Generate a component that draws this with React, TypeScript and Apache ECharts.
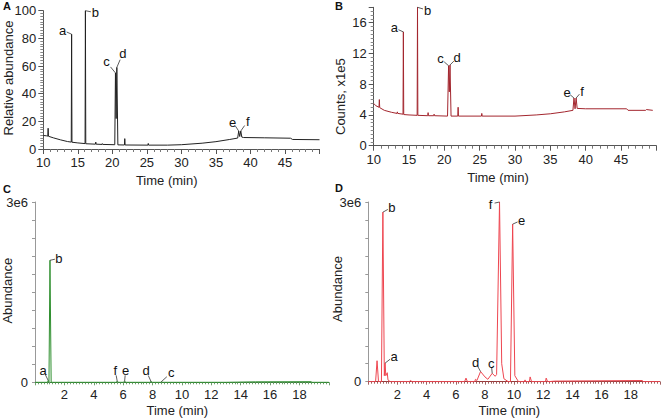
import React, { useEffect, useRef } from "react";
import * as echarts from "echarts";

// ---- Data ----
// Panel A: time (min), relative abundance
const traceA: [number, number][] = [
  [10, 9.8], [10.5, 9.5], [10.65, 9.3], [10.7, 15], [10.75, 9.2], [11.5, 8], [12.5, 6.6], [13.5, 5.4],
  [14.05, 5.0], [14.1, 83], [14.15, 4.9], [15, 4.4], [16.05, 3.9], [16.1, 100], [16.15, 3.8],
  [17.55, 3.5], [17.6, 5], [17.65, 3.5], [18.5, 3.3], [18.55, 3.9], [18.6, 3.3], [20.35, 3.1],
  [20.45, 55], [20.55, 22], [20.65, 59], [20.8, 3.0], [21.75, 2.9], [21.8, 7.5], [21.85, 2.9],
  [25.15, 2.8], [25.2, 4], [25.25, 2.8], [28, 2.8], [30, 3.1], [33, 4.2], [35, 5.3], [37, 6.9],
  [38.15, 7.9], [38.3, 13], [38.45, 9], [38.6, 13], [38.75, 8.6], [39, 8.3], [42, 8.1],
  [45.8, 7.8], [46.1, 6.9], [50, 6.7],
];
const peaksA: [number, number][] = [[14.1, 83], [16.1, 100], [20.45, 55], [20.65, 59], [38.3, 13], [38.6, 13]];
const lettersA = ["a", "b", "c", "d", "e", "f"];

// Panel B: time (min), counts x1e5
const traceB: [number, number][] = [
  [10, 5.5], [10.3, 5.2], [10.75, 5.0], [10.8, 6.0], [10.85, 4.95], [11.5, 4.6], [12.5, 4.35],
  [13.3, 4.2], [13.35, 4.4], [13.4, 4.2], [14.15, 4.1], [14.2, 14.8], [14.25, 4.05], [15, 4.0],
  [16.15, 3.95], [16.2, 18], [16.25, 3.95], [17.65, 3.9], [17.7, 4.3], [17.75, 3.9], [18.5, 3.9],
  [18.55, 4.1], [18.6, 3.9], [20.45, 3.85], [20.6, 10.4], [20.7, 7], [20.8, 10.5], [20.95, 3.85],
  [21.9, 3.85], [21.95, 5.0], [22.0, 3.85], [25.25, 3.85], [25.3, 4.2], [25.35, 3.85], [30, 3.85],
  [33, 4.0], [35, 4.15], [37, 4.4], [38.2, 4.6], [38.35, 6.2], [38.5, 4.8], [38.65, 6.2],
  [38.8, 4.85], [40, 4.8], [45.8, 4.8], [46.0, 4.6], [48.5, 4.6], [48.6, 4.7], [49.5, 4.6],
];
const peaksB: [number, number][] = [[14.2, 14.8], [16.2, 18], [20.6, 10.4], [20.8, 10.5], [38.35, 6.2], [38.65, 6.2]];
const lettersB = ["a", "b", "c", "d", "e", "f"];

// Panel C: time (min), abundance
const traceC: [number, number][] = [
  [0, 0], [0.85, 0], [0.9, 30000], [0.95, 5000], [1.02, 2030000], [1.1, 0], [5.5, 0], [5.6, 15000],
  [5.7, 0], [6.0, 0], [6.1, 15000], [6.2, 0], [7.8, 0], [7.9, 12000], [8.0, 0], [8.55, 0],
  [8.6, 10000], [8.7, 0], [13, 0], [15, 8000], [18.8, 10000], [18.85, 0], [20, 0],
];
const peaksC: [number, number][] = [[0.9, 30000], [1.02, 2030000], [5.6, 15000], [6.1, 15000], [7.9, 12000], [8.6, 10000]];
const lettersC = ["a", "b", "f", "e", "d", "c"];

// Panel D: time (min), abundance
const traceD: [number, number][] = [
  [0, 0], [0.5, 0], [0.6, 350000], [0.7, 0], [0.9, 0], [1.0, 2830000], [1.1, 100000], [1.15, 310000],
  [1.2, 100000], [1.3, 150000], [1.35, 30000], [1.5, 0], [2.8, 0], [2.9, 20000], [3.0, 0],
  [6.6, 0], [6.7, 60000], [6.8, 0], [7.3, 0], [7.35, 40000], [7.45, 20000], [7.7, 170000],
  [8.0, 80000], [8.2, 40000], [8.5, 140000], [8.7, 90000], [8.8, 120000], [9.0, 3000000],
  [9.15, 300000], [9.3, 50000], [9.6, 0], [9.75, 0], [9.9, 2630000], [10.05, 100000], [10.3, 0],
  [10.7, 0], [10.75, 30000], [10.8, 0], [11.05, 0], [11.1, 80000], [11.2, 0], [12.15, 0],
  [12.2, 60000], [12.3, 0], [12.8, 10000], [18.8, 20000], [18.85, 0], [20, 0],
];
const peaksD: [number, number][] = [[1.0, 2830000], [1.15, 310000], [7.7, 170000], [8.5, 140000], [9.0, 3000000], [9.9, 2630000]];
const lettersD = ["b", "a", "d", "c", "f", "e"];

// label offsets (px) – styling
const offA: [number, number][] = [[-9, -4], [10, 2], [-9, -11], [6, -14], [-6, -9], [7, -10]];
const offB: [number, number][] = [[-9, -4], [10, 3], [-8, -7], [7, -7], [-7, -6], [6, -7]];
const offC: [number, number][] = [[-5, -10], [9, -2], [-2, -11], [1, -11], [-5, -11], [10, -9]];
const offD: [number, number][] = [[9, -5], [9, -7], [-5, -9], [-1, -10], [-9, 2], [9, -4]];

const FONT = "'Liberation Sans', Arial, sans-serif";

export default function App() {
  const ref = useRef<HTMLDivElement>(null);
  useEffect(() => {
    document.body.style.margin = "0";
    const chart = echarts.init(ref.current!, undefined, { renderer: "svg" });

    const labelSeries = (
      peaks: [number, number][],
      letters: string[],
      offs: [number, number][],
      idx: number
    ) => ({
      type: "custom",
      xAxisIndex: idx,
      yAxisIndex: idx,
      clip: false,
      silent: true,
      z: 5,
      data: peaks,
      renderItem: (params: any, api: any) => {
        const p = api.coord([api.value(0), api.value(1)]);
        const [dx, dy] = offs[params.dataIndex];
        return {
          type: "group",
          children: [
            {
              type: "polyline",
              shape: { points: [[p[0], p[1]], [p[0] + dx * 0.55, p[1] + dy * 0.55]] },
              style: { stroke: "#333", lineWidth: 0.8, fill: null },
            },
            {
              type: "text",
              x: p[0] + dx,
              y: p[1] + dy,
              style: {
                text: letters[params.dataIndex],
                fontSize: 13,
                fontFamily: FONT,
                fill: "#111",
                align: "center",
                verticalAlign: "middle",
              },
            },
          ],
        };
      },
    });

    const lineSeries = (data: [number, number][], color: string, idx: number) => ({
      type: "line",
      xAxisIndex: idx,
      yAxisIndex: idx,
      data,
      showSymbol: false,
      symbol: "none",
      lineStyle: { color, width: 1 },
      z: 3,
    });

    const axisText = { color: "#222", fontSize: 13, fontFamily: FONT };

    const xTop = (min: number, max: number, idx: number) => ({
      type: "value",
      gridIndex: idx,
      min,
      max,
      interval: 5,
      axisLine: { show: true, onZero: false, lineStyle: { color: "#555", width: 1 } },
      axisTick: { show: true, length: 5, lineStyle: { color: "#555" } },
      minorTick: { show: true, splitNumber: 5, length: 3, lineStyle: { color: "#777" } },
      splitLine: { show: false },
      minorSplitLine: { show: false },
      axisLabel: { ...axisText, margin: 7, formatter: (v: number) => (v >= 50 ? "" : String(v)) },
    });

    const xBottom = (idx: number, lineColor: string, tickColor: string) => ({
      type: "value",
      gridIndex: idx,
      min: 0,
      max: 20,
      interval: 2,
      axisLine: { show: true, onZero: false, lineStyle: { color: lineColor, width: 1 } },
      axisTick: { show: true, length: 3, lineStyle: { color: tickColor } },
      minorTick: { show: true, splitNumber: 10, length: 2, lineStyle: { color: tickColor } },
      splitLine: { show: false },
      minorSplitLine: { show: false },
      axisLabel: {
        ...axisText,
        margin: 6,
        formatter: (v: number) => (v === 0 || v === 20 ? "" : String(v)),
      },
    });

    const yBottom = (idx: number) => ({
      type: "value",
      gridIndex: idx,
      min: 0,
      max: 3000000,
      interval: 300000,
      axisLine: { show: true, lineStyle: { color: "#999", width: 1 } },
      axisTick: { show: true, length: 3, lineStyle: { color: "#999" } },
      splitLine: { show: false },
      axisLabel: {
        ...axisText,
        margin: 7,
        formatter: (v: number) => (v === 0 ? "0" : v === 3000000 ? "3e6" : ""),
      },
    });

    const gridBase = { outerBoundsMode: "none", containLabel: false, show: false };

    chart.setOption({
      animation: false,
      backgroundColor: "#fff",
      grid: [
        { ...gridBase, left: 43.3, top: 10.7, width: 276.2, height: 138.3 },
        { ...gridBase, left: 373.7, top: 7.3, width: 282.6, height: 138.4 },
        { ...gridBase, left: 35, top: 202, width: 293.8, height: 180.3 },
        { ...gridBase, left: 368.3, top: 202, width: 291.6, height: 179.7 },
      ],
      xAxis: [
        xTop(10, 50, 0),
        xTop(10, 50, 1),
        xBottom(2, "#3f7f3f", "#6f9f6f"),
        xBottom(3, "#9a3a3a", "#a06060"),
      ],
      yAxis: [
        {
          type: "value",
          gridIndex: 0,
          min: 0,
          max: 100,
          interval: 20,
          axisLine: { show: true, lineStyle: { color: "#555", width: 1 } },
          axisTick: { show: true, length: 5, lineStyle: { color: "#555" } },
          minorTick: { show: true, splitNumber: 10, length: 3, lineStyle: { color: "#888" } },
          splitLine: { show: false },
          minorSplitLine: { show: false },
          axisLabel: { ...axisText, margin: 7 },
        },
        {
          type: "value",
          gridIndex: 1,
          min: 0,
          max: 18,
          interval: 4,
          axisLine: { show: true, lineStyle: { color: "#555", width: 1 } },
          axisTick: { show: true, length: 5, lineStyle: { color: "#555" } },
          minorTick: { show: true, splitNumber: 8, length: 3, lineStyle: { color: "#888" } },
          splitLine: { show: false },
          minorSplitLine: { show: false },
          axisLabel: {
            ...axisText,
            margin: 7,
            formatter: (v: number) => (v % 4 === 0 ? String(v) : ""),
          },
        },
        yBottom(2),
        yBottom(3),
      ],
      series: [
        lineSeries(traceA, "#222222", 0),
        lineSeries(traceB, "#a3262e", 1),
        lineSeries(traceC, "#2f8f2f", 2),
        lineSeries(traceD, "#ee4650", 3),
        labelSeries(peaksA, lettersA, offA, 0),
        labelSeries(peaksB, lettersB, offB, 1),
        labelSeries(peaksC, lettersC, offC, 2),
        labelSeries(peaksD, lettersD, offD, 3),
      ],
      graphic: [
        { type: "text", x: 3, y: 0, style: { text: "A", fontSize: 11, fontWeight: "bold", fontFamily: FONT, fill: "#111" } },
        { type: "text", x: 335, y: 0, style: { text: "B", fontSize: 11, fontWeight: "bold", fontFamily: FONT, fill: "#111" } },
        { type: "text", x: 3, y: 183, style: { text: "C", fontSize: 11, fontWeight: "bold", fontFamily: FONT, fill: "#111" } },
        { type: "text", x: 335, y: 182, style: { text: "D", fontSize: 11, fontWeight: "bold", fontFamily: FONT, fill: "#111" } },
        { type: "text", x: 166.7, y: 180, style: { text: "Time (min)", fontSize: 13, fontFamily: FONT, fill: "#222", align: "center", verticalAlign: "middle" } },
        { type: "text", x: 498, y: 177, style: { text: "Time (min)", fontSize: 13, fontFamily: FONT, fill: "#222", align: "center", verticalAlign: "middle" } },
        { type: "text", x: 177.3, y: 410.5, style: { text: "Time (min)", fontSize: 13, fontFamily: FONT, fill: "#222", align: "center", verticalAlign: "middle" } },
        { type: "text", x: 509.3, y: 410.5, style: { text: "Time (min)", fontSize: 13, fontFamily: FONT, fill: "#222", align: "center", verticalAlign: "middle" } },
        { type: "text", x: 8, y: 78, rotation: Math.PI / 2, style: { text: "Relative abundance", fontSize: 13, fontFamily: FONT, fill: "#222", align: "center", verticalAlign: "middle" } },
        { type: "text", x: 340.5, y: 96.7, rotation: Math.PI / 2, style: { text: "Counts, x1e5", fontSize: 13, fontFamily: FONT, fill: "#222", align: "center", verticalAlign: "middle" } },
        { type: "text", x: 7, y: 290.7, rotation: Math.PI / 2, style: { text: "Abundance", fontSize: 13, fontFamily: FONT, fill: "#222", align: "center", verticalAlign: "middle" } },
        { type: "text", x: 337, y: 289, rotation: Math.PI / 2, style: { text: "Abundance", fontSize: 13, fontFamily: FONT, fill: "#222", align: "center", verticalAlign: "middle" } },
      ],
    });
    return () => chart.dispose();
  }, []);
  return <div ref={ref} style={{ width: 662, height: 418 }} />;
}
